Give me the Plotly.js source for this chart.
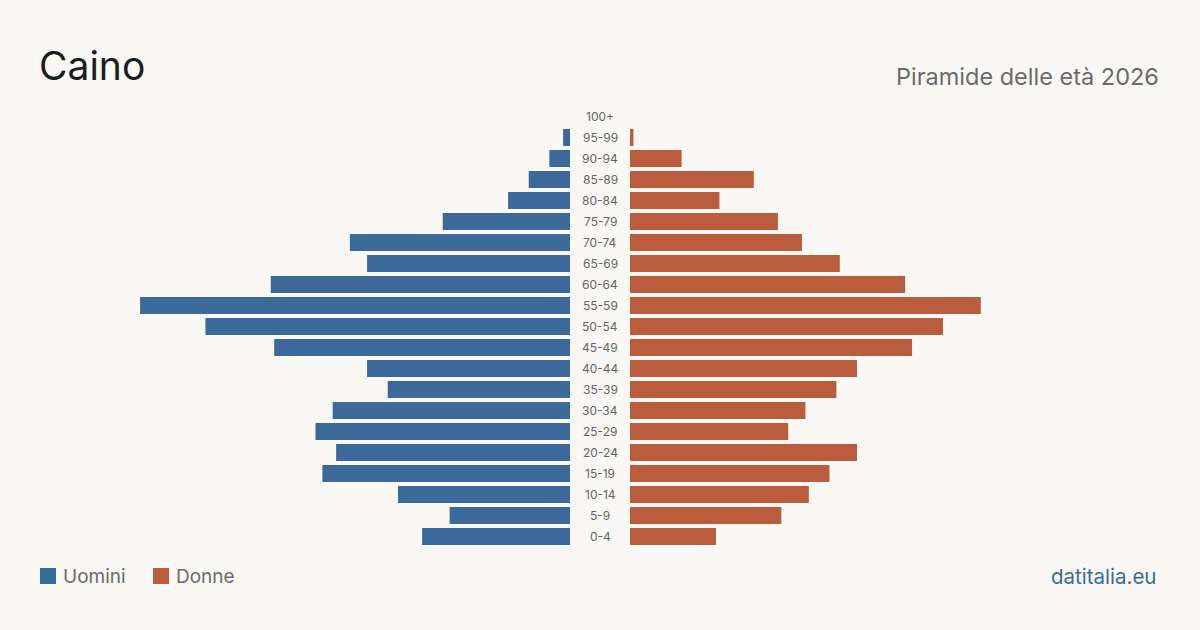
<!DOCTYPE html>
<html>
<head>
<meta charset="utf-8">
<script src="https://cdn.plot.ly/plotly-3.0.1.min.js"></script>
<style>
  html, body { margin: 0; padding: 0; background: #f9f8f4; }
  #chart { width: 1200px; height: 630px; }
</style>
</head>
<body>
<div id="chart"></div>
<script>
// Age classes, from youngest (bottom) to oldest (top)
const classiEta = ['0-4','5-9','10-14','15-19','20-24','25-29','30-34','35-39','40-44','45-49',
                   '50-54','55-59','60-64','65-69','70-74','75-79','80-84','85-89','90-94','95-99','100+'];
// Residents by age class
const uomini = [43, 35, 50, 72, 68, 74, 69, 53, 59, 86, 106, 125, 87, 59, 64, 37, 18, 12, 6, 2, 0];
const donne  = [25, 44, 52, 58, 66, 46, 51, 60, 66, 82, 91, 102, 80, 61, 50, 43, 26, 36, 15, 1, 0];

const comune = 'Caino';
const sottotitolo = 'Piramide delle età 2026';
const fonte = 'datitalia.eu';
const legendaUomini = 'Uomini';
const legendaDonne = 'Donne';

const W = 1200, H = 630;
const BLU = '#3b6a9a', ROSSO = '#ba5d3e', SFONDO = '#f9f8f4';
const FONT = 'Inter, "Noto Sans", "DejaVu Sans", sans-serif';
const px = v => v / W;
const py = v => 1 - v / H;
const xMax = 154.1;

const traces = [
  {
    type: 'bar', orientation: 'h', name: legendaUomini,
    y: classiEta, x: uomini, xaxis: 'x', yaxis: 'y',
    marker: { color: BLU }, hoverinfo: 'x+y'
  },
  {
    type: 'bar', orientation: 'h', name: legendaDonne,
    y: classiEta, x: donne, xaxis: 'x2', yaxis: 'y',
    marker: { color: ROSSO }, hoverinfo: 'x+y'
  }
];

// Age class labels in the central gap
const annotations = classiEta.map(c => ({
  xref: 'paper', yref: 'y', x: 0.5, y: c, text: c, showarrow: false,
  xanchor: 'center', yanchor: 'middle',
  font: { family: FONT, size: 12, color: '#666666' }
}));

annotations.push(
  { xref: 'paper', yref: 'paper', x: px(37), y: py(66), xanchor: 'left', yanchor: 'middle',
    text: comune, showarrow: false, font: { family: FONT, size: 39, color: '#1c1c1c' } },
  { xref: 'paper', yref: 'paper', x: px(1161), y: py(76), xanchor: 'right', yanchor: 'middle',
    text: sottotitolo, showarrow: false, font: { family: FONT, size: 23.5, color: '#6b6b6b' } },
  { xref: 'paper', yref: 'paper', x: px(61), y: py(576), xanchor: 'left', yanchor: 'middle',
    text: legendaUomini, showarrow: false, font: { family: FONT, size: 19, color: '#6b6b6b' } },
  { xref: 'paper', yref: 'paper', x: px(174), y: py(576), xanchor: 'left', yanchor: 'middle',
    text: legendaDonne, showarrow: false, font: { family: FONT, size: 19, color: '#6b6b6b' } },
  { xref: 'paper', yref: 'paper', x: px(1158), y: py(576), xanchor: 'right', yanchor: 'middle',
    text: fonte, showarrow: false, font: { family: FONT, size: 20.5, color: BLU } }
);

// Legend swatches
const shapes = [
  { type: 'rect', xref: 'paper', yref: 'paper', x0: px(40), x1: px(56), y0: py(584), y1: py(568),
    fillcolor: BLU, line: { width: 0 } },
  { type: 'rect', xref: 'paper', yref: 'paper', x0: px(153), x1: px(169), y0: py(584), y1: py(568),
    fillcolor: ROSSO, line: { width: 0 } }
];

const layout = {
  width: W, height: H,
  margin: { l: 0, r: 0, t: 0, b: 0 },
  paper_bgcolor: SFONDO, plot_bgcolor: SFONDO,
  showlegend: false,
  bargap: 0.19,
  xaxis:  { domain: [px(40), px(570)], range: [xMax, 0], visible: false, fixedrange: true },
  xaxis2: { domain: [px(630), px(1160)], range: [0, xMax], visible: false, anchor: 'y', fixedrange: true },
  yaxis:  { domain: [py(547), py(106)], type: 'category', categoryorder: 'array', categoryarray: classiEta,
            range: [-0.5, classiEta.length - 0.5], showticklabels: false, showgrid: false,
            zeroline: false, showline: false, ticks: '', fixedrange: true },
  annotations: annotations,
  shapes: shapes,
  font: { family: FONT }
};

Plotly.newPlot('chart', traces, layout, { displayModeBar: false, staticPlot: true });
</script>
</body>
</html>
